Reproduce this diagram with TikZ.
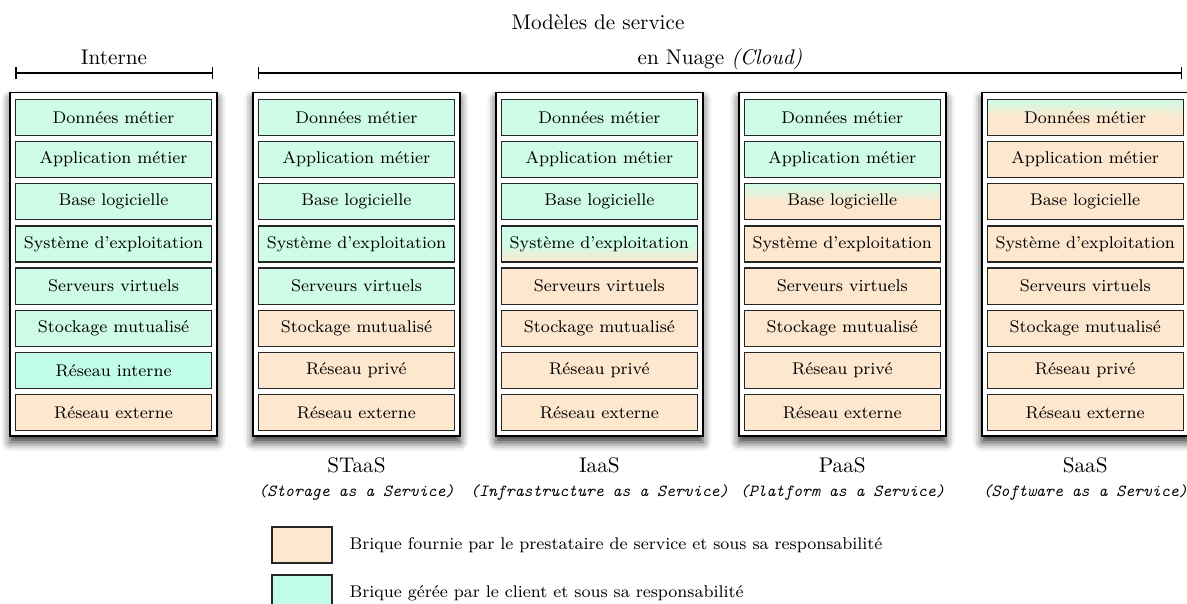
\documentclass[tikz,border=0pt]{standalone}
\usepackage{tikz}
\usetikzlibrary{calc,arrows.meta,positioning,shadows.blur}
\usepackage{xcolor}

\definecolor{clientgreen}{RGB}{206,252,230}
\definecolor{localgreen}{RGB}{192,252,230}
\definecolor{providerpeach}{RGB}{253,231,206}

\tikzset{
  brick/.style={draw=black!85, line width=0.6pt, inner sep=0pt,
    minimum width=3.249cm, minimum height=0.597cm, font=\footnotesize},
  bcli/.style={fill=clientgreen},
  bint/.style={fill=localgreen},
  bpro/.style={fill=providerpeach},
  % half-managed bricks
  bmixa/.style={top color=clientgreen, bottom color=providerpeach, middle color=clientgreen},
  bmixb/.style={top color=clientgreen, bottom color=providerpeach, middle color=providerpeach},
  stack/.style={draw=black, line width=0.8pt, fill=white, inner sep=0pt,
    minimum width=3.432cm, minimum height=5.695cm,
    blur shadow={shadow xshift=0pt, shadow yshift=-3pt, shadow blur radius=4pt, shadow opacity=80}},
  span/.style={{Bar[width=5.5pt]}-{Bar[width=5.5pt]}, line width=0.7pt},
  model/.style={anchor=base},
  fullname/.style={anchor=base, font=\footnotesize\ttfamily\itshape},
  swatch/.style={draw=black!85, line width=0.6pt, inner sep=0pt,
    minimum width=0.995cm, minimum height=0.597cm},
}

\begin{document}
\begin{tikzpicture}
  \useasboundingbox (0,0) rectangle (19.678,-9.997);

  % Title
  \node[anchor=base] (title) at (9.914,-0.481) {Modèles de service};

  % Brackets over the columns
  \coordinate (intL) at (0.249,-1.210);
  \coordinate (intR) at (3.531,-1.210);
  \coordinate (cloudL) at (4.277,-1.210);
  \coordinate (cloudR) at (19.595,-1.210);
  \draw[span] (intL) -- (intR);
  \draw[span] (cloudL) -- (cloudR);
  \node[anchor=base] (interne) at ($(intL)!0.5!(intR)+(0,0.133)$) {Interne};
  \node[anchor=base] (nuage) at ($(cloudL)!0.5!(cloudR)+(0,0.133)$) {en Nuage \textit{(Cloud)}};

  % Stacks of bricks
  \foreach \c/\kinds in {0/{bcli,bcli,bcli,bcli,bcli,bcli,bint,bpro},
                         1/{bcli,bcli,bcli,bcli,bcli,bpro,bpro,bpro},
                         2/{bcli,bcli,bcli,bmixa,bpro,bpro,bpro,bpro},
                         3/{bcli,bcli,bmixb,bpro,bpro,bpro,bpro,bpro},
                         4/{bmixb,bpro,bpro,bpro,bpro,bpro,bpro,bpro}} {
    \node[stack] (col\c) at ({1.882+4.027*\c},-4.381) {};
    \foreach \k [count=\r] in \kinds
      \node[brick,\k] (b\c\r) at ({1.882+4.027*\c},{-1.945-0.6996*(\r-1)})
        {\ifcase\r\or Données métier\or Application métier\or Base logicielle\or
         Système d'exploitation\or Serveurs virtuels\or Stockage mutualisé\or
         \ifnum\c=0 Réseau interne\else Réseau privé\fi\or Réseau externe\fi};
  }

  % Service model names
  \foreach \c/\abbr/\full in {1/STaaS/Storage as a Service,
                              2/IaaS/Infrastructure as a Service,
                              3/PaaS/Platform as a Service,
                              4/SaaS/Software as a Service} {
    \node[model] (m\c) at ({1.882+4.027*\c},-7.825) {\abbr};
    \node[fullname] (d\c) at ({1.882+4.027*\c},-8.239) {(\full)};
  }

  % Legend
  \node[swatch, fill=providerpeach] (sw1) at (5.007,-9.035) {};
  \node[right=0.155cm of sw1, font=\footnotesize] (leg1)
    {Brique fournie par le prestataire de service et sous sa responsabilité};
  \node[swatch, fill=localgreen] (sw2) at (5.007,-9.831) {};
  \node[right=0.155cm of sw2, font=\footnotesize] (leg2)
    {Brique gérée par le client et sous sa responsabilité};
\end{tikzpicture}
\end{document}
